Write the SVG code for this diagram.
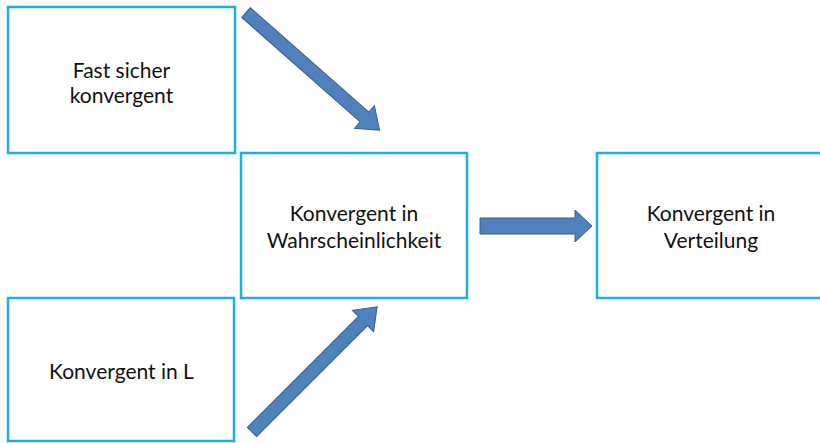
<svg xmlns="http://www.w3.org/2000/svg" width="820" height="443" viewBox="0 0 820 443">
<style>
.box{fill:#fff;stroke:#1EAEE2;stroke-width:2.5}
.lbl{font-family:Lato,"Open Sans",sans-serif;font-size:21px;fill:#111;text-anchor:middle}
.arr{fill:#4F81BD;stroke:#385D8A;stroke-width:1}
</style>
<rect width="820" height="443" fill="#fff"/>
<g id="n1"><rect class="box" x="8" y="7" width="227" height="146"/><text class="lbl" x="121.5" y="78">Fast sicher</text><text class="lbl" x="121.5" y="103">konvergent</text></g>
<g id="n2"><rect class="box" x="241" y="153" width="226" height="145"/><text class="lbl" x="354" y="221">Konvergent in</text><text class="lbl" x="354" y="248">Wahrscheinlichkeit</text></g>
<g id="n3"><rect class="box" x="8" y="298" width="226" height="143"/><text class="lbl" x="121.5" y="379">Konvergent in L</text></g>
<g id="n4"><rect class="box" x="597" y="153" width="240" height="145"/><text class="lbl" x="711" y="221">Konvergent in</text><text class="lbl" x="711" y="248">Verteilung</text></g>
<g id="connectors">
<polygon class="arr" transform="translate(246,12.5) rotate(41.4)" points="0,-6.5 158,-6.5 158,-15 178,0 158,15 158,6.5 0,6.5"/>
<polygon class="arr" transform="translate(252,432) rotate(-45)" points="0,-6.5 157,-6.5 157,-15 177,0 157,15 157,6.5 0,6.5"/>
<polygon class="arr" points="480,218 575,218 575,210 592,226 575,242 575,234 480,234"/>
</g>
</svg>
